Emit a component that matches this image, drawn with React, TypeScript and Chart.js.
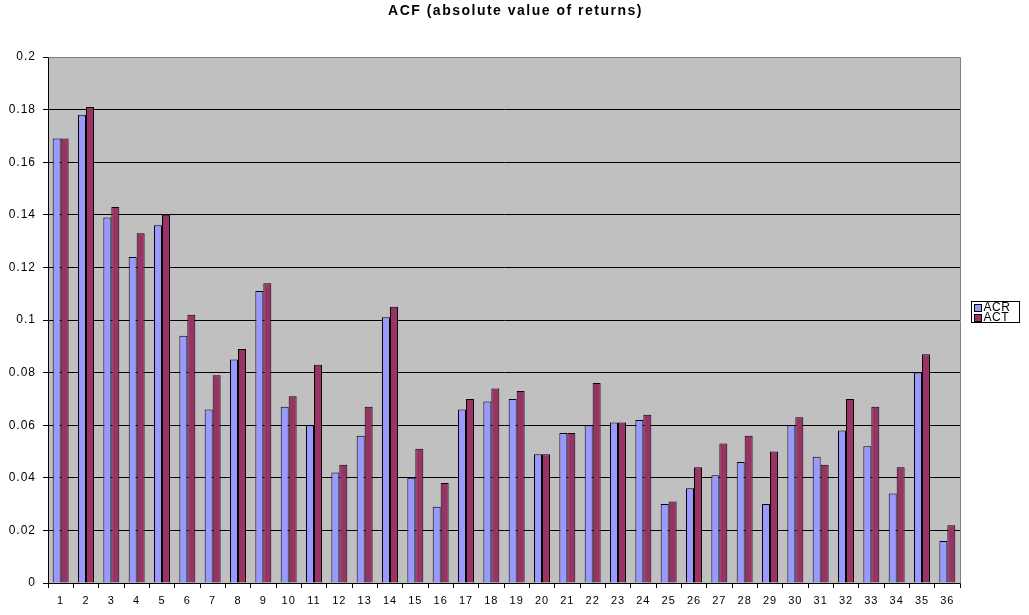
import React, { useEffect, useRef } from "react";
import { Chart, registerables } from "chart.js";

Chart.register(...registerables);

const lags = Array.from({ length: 36 }, (_, i) => String(i + 1));

const acrValues = [
  0.169, 0.178, 0.139, 0.124, 0.136, 0.094, 0.066, 0.085, 0.111, 0.067, 0.06, 0.042,
  0.056, 0.101, 0.04, 0.029, 0.066, 0.069, 0.07, 0.049, 0.057, 0.06, 0.061, 0.062,
  0.03, 0.036, 0.041, 0.046, 0.03, 0.06, 0.048, 0.058, 0.052, 0.034, 0.08, 0.016,
];

const actValues = [
  0.169, 0.181, 0.143, 0.133, 0.14, 0.102, 0.079, 0.089, 0.114, 0.071, 0.083, 0.045,
  0.067, 0.105, 0.051, 0.038, 0.07, 0.074, 0.073, 0.049, 0.057, 0.076, 0.061, 0.064,
  0.031, 0.044, 0.053, 0.056, 0.05, 0.063, 0.045, 0.07, 0.067, 0.044, 0.087, 0.022,
];

const seriesNames = ["ACR", "ACT"];
const seriesColors = ["#9999FF", "#993366"];
const chartTitle = "ACF (absolute value of returns)";

const FONT = '"Liberation Sans", Arial, sans-serif';

// Grey plot background, slightly wider text spacing, and the grey frame on top and right.
const plotAreaPlugin = {
  id: "plotArea",
  beforeDraw(chart: any) {
    const { ctx, chartArea } = chart;
    ctx.save();
    ctx.fillStyle = "#C0C0C0";
    ctx.fillRect(chartArea.left, chartArea.top, chartArea.right - chartArea.left, chartArea.bottom - chartArea.top);
    ctx.restore();
    ctx.letterSpacing = "1px";
  },
  afterDraw(chart: any) {
    const { ctx, chartArea } = chart;
    ctx.save();
    ctx.strokeStyle = "#808080";
    ctx.lineWidth = 1;
    ctx.beginPath();
    ctx.moveTo(Math.round(chartArea.left) + 0.5, Math.round(chartArea.top) + 0.5);
    ctx.lineTo(Math.round(chartArea.right) + 0.5, Math.round(chartArea.top) + 0.5);
    ctx.lineTo(Math.round(chartArea.right) + 0.5, Math.round(chartArea.bottom) + 0.5);
    ctx.stroke();
    ctx.restore();
  },
};

// Title centred over the whole canvas.
const centeredTitlePlugin = {
  id: "centeredTitle",
  afterDraw(chart: any) {
    const { ctx, width } = chart;
    ctx.save();
    ctx.letterSpacing = "1.5px";
    ctx.font = `bold 14px ${FONT}`;
    ctx.fillStyle = "#000000";
    ctx.textAlign = "center";
    ctx.textBaseline = "middle";
    ctx.fillText(chartTitle, width / 2 + 1, 11);
    ctx.restore();
  },
};

// Boxed legend at the right of the plot.
const boxedLegendPlugin = {
  id: "boxedLegend",
  afterDraw(chart: any) {
    const { ctx } = chart;
    const datasets = chart.data.datasets;
    const x = 971.5;
    const y = 301.5;
    const w = 48;
    const rowH = 10;
    const h = datasets.length * rowH + 1;
    ctx.save();
    ctx.letterSpacing = "0.5px";
    ctx.fillStyle = "#FFFFFF";
    ctx.fillRect(x, y, w, h);
    ctx.strokeStyle = "#000000";
    ctx.lineWidth = 1;
    ctx.strokeRect(x, y, w, h);
    ctx.font = `12px ${FONT}`;
    ctx.textBaseline = "middle";
    ctx.textAlign = "left";
    datasets.forEach((ds: any, i: number) => {
      const cy = y + 1 + rowH * i + rowH / 2;
      ctx.fillStyle = ds.backgroundColor;
      ctx.fillRect(x + 3, Math.round(cy - 4) + 0.5, 7, 7);
      ctx.strokeStyle = "#000000";
      ctx.strokeRect(x + 3, Math.round(cy - 4) + 0.5, 7, 7);
      ctx.fillStyle = "#000000";
      ctx.fillText(ds.label, x + 12, cy + 0.5);
    });
    ctx.restore();
  },
};

export default function App() {
  const canvasRef = useRef<HTMLCanvasElement | null>(null);

  useEffect(() => {
    if (!canvasRef.current) return;
    const chart = new Chart(canvasRef.current, {
      type: "bar",
      data: {
        labels: lags,
        datasets: [
          {
            label: seriesNames[0],
            data: acrValues,
            backgroundColor: seriesColors[0],
            borderColor: "#000000",
            borderWidth: 1,
          },
          {
            label: seriesNames[1],
            data: actValues,
            backgroundColor: seriesColors[1],
            borderColor: "#000000",
            borderWidth: 1,
          },
        ],
      },
      options: {
        animation: false,
        responsive: false,
        maintainAspectRatio: false,
        layout: { padding: { left: 0, right: 69, top: 57, bottom: 0 } },
        datasets: {
          bar: { categoryPercentage: 0.63, barPercentage: 1 },
        },
        plugins: {
          legend: { display: false },
          tooltip: { enabled: false },
          title: { display: false },
        },
        scales: {
          x: {
            offset: true,
            grid: {
              offset: true,
              drawOnChartArea: false,
              drawTicks: true,
              tickLength: 5,
              tickColor: "#000000",
            },
            border: { display: true, color: "#000000", width: 1 },
            ticks: {
              color: "#000000",
              font: { family: FONT, size: 11 },
              padding: 6,
              maxRotation: 0,
              autoSkip: false,
            },
            afterFit(scale: any) {
              scale.height = 32;
            },
          },
          y: {
            min: 0,
            max: 0.2,
            grid: {
              color: "#000000",
              lineWidth: 1,
              drawTicks: true,
              tickLength: 5,
              tickColor: "#000000",
            },
            border: { display: true, color: "#000000", width: 1 },
            ticks: {
              stepSize: 0.02,
              color: "#000000",
              font: { family: FONT, size: 12 },
              padding: 7,
              callback: (v: any) => String(Number(Number(v).toFixed(2))),
            },
            afterFit(scale: any) {
              scale.width = 48;
            },
          },
        },
      },
      plugins: [plotAreaPlugin, centeredTitlePlugin, boxedLegendPlugin],
    });
    return () => chart.destroy();
  }, []);

  return (
    <div style={{ position: "fixed", left: 0, top: 0, width: 1029, height: 615, background: "#FFFFFF" }}>
      <canvas ref={canvasRef} width={1029} height={615} style={{ width: 1029, height: 615, display: "block" }} />
    </div>
  );
}
